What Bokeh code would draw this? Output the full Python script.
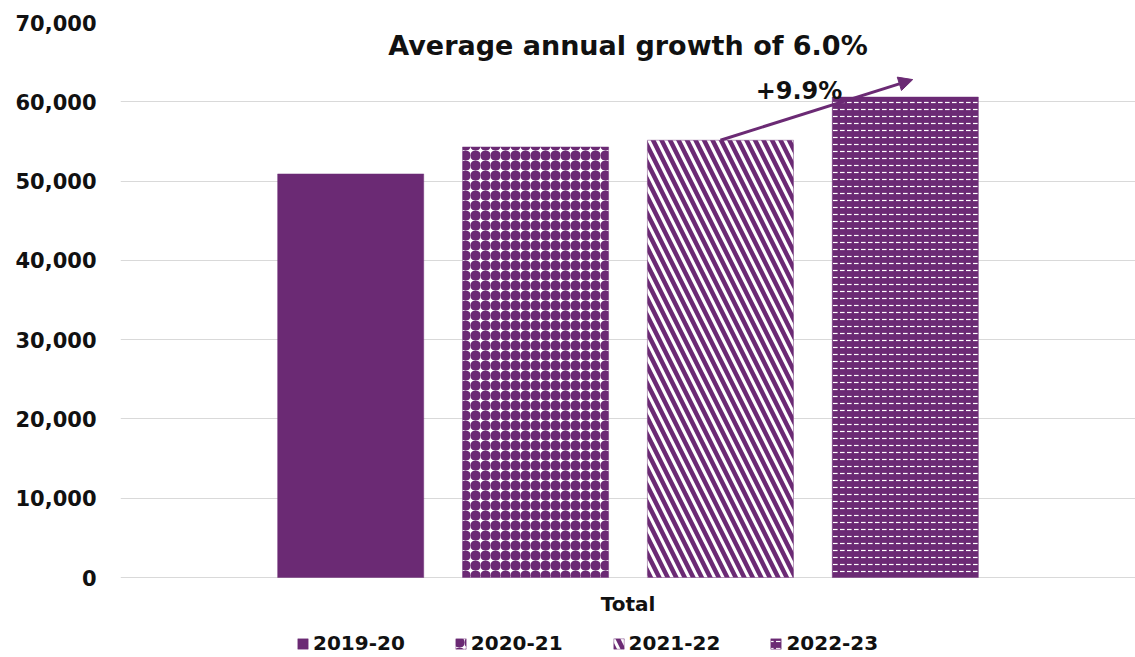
from bokeh.plotting import figure
from bokeh.models import (Range1d, NumeralTickFormatter, FixedTicker, Label, Arrow,
                          NormalHead, Legend, LegendItem)
from bokeh.embed import file_html
from bokeh.resources import INLINE

# ---- data ----
periods = ["2019-20", "2020-21", "2021-22", "2022-23"]
values = [50900, 54300, 55150, 60600]
y_ticks = [0, 10000, 20000, 30000, 40000, 50000, 60000, 70000]
category_label = "Total"
title_text = "Average annual growth of 6.0%"
change_text = "+9.9%"

# ---- styles ----
PURPLE = "#6B2A74"
FONT = "DejaVu Sans"
fills = [PURPLE, "white", "white", PURPLE]
hatches = [None, "ring", "left_diagonal_line", "horizontal_dash"]
hatch_colors = [PURPLE, PURPLE, PURPLE, "white"]
hatch_scales = [10, 10, 17, 7]
hatch_weights = [1, 5.5, 4.5, 1.2]

# frame runs from y=22 to the bottom of the page; the area below 0 holds the
# category label and the legend
Y_TOP = 70000
Y_BOTTOM = -Y_TOP * 80 / 555

p = figure(width=1135, height=657,
           x_range=Range1d(-1.245, 4.245), y_range=Range1d(Y_BOTTOM, Y_TOP),
           output_backend="svg", toolbar_location=None,
           min_border_left=120, min_border_right=0, min_border_top=22,
           min_border_bottom=0)
p.outline_line_color = None
p.background_fill_color = "white"
p.border_fill_color = "white"
p.xaxis.visible = False

# y axis
p.yaxis.ticker = FixedTicker(ticks=y_ticks)
p.yaxis.formatter = NumeralTickFormatter(format="0,0")
p.yaxis.axis_line_color = None
p.yaxis.major_tick_line_color = None
p.yaxis.minor_tick_line_color = None
p.yaxis.major_tick_out = 0
p.yaxis.major_label_standoff = 24
p.yaxis.major_label_text_font = FONT
p.yaxis.major_label_text_font_style = "bold"
p.yaxis.major_label_text_font_size = "21px"
p.yaxis.major_label_text_color = "#111111"

p.xgrid.grid_line_color = None
p.ygrid.ticker = FixedTicker(ticks=y_ticks)
p.ygrid.grid_line_color = "#D9D9D9"
p.ygrid.grid_line_width = 1

items = []
for i, name in enumerate(periods):
    kw = dict(x=[i], top=[values[i]], width=0.79, bottom=0,
              fill_color=fills[i], line_color=PURPLE, line_alpha=0.45, line_width=1)
    if hatches[i]:
        kw.update(hatch_pattern=hatches[i], hatch_color=hatch_colors[i],
                  hatch_scale=hatch_scales[i], hatch_weight=hatch_weights[i])
    r = p.vbar(**kw)
    items.append(LegendItem(label=name, renderers=[r]))

legend = Legend(items=items, orientation="horizontal", location=(176, 2),
                label_text_font=FONT, label_text_font_style="bold",
                label_text_font_size="20px", label_text_color="#111111",
                glyph_width=13, glyph_height=13, label_standoff=4, spacing=49,
                border_line_color=None, background_fill_alpha=0,
                padding=0, margin=0, label_height=20)
p.add_layout(legend)

# category label under the bars
p.add_layout(Label(x=(len(periods) - 1) / 2, y=-3300, text=category_label,
                   text_align="center", text_baseline="middle",
                   text_font=FONT, text_font_style="bold", text_font_size="20px",
                   text_color="#111111"))

# annotations
p.add_layout(Label(x=(len(periods) - 1) / 2, y=67100, text=title_text,
                   text_align="center", text_baseline="middle",
                   text_font=FONT, text_font_style="bold", text_font_size="27px",
                   text_color="#111111"))

p.add_layout(Arrow(x_start=2, y_start=values[2], x_end=3 + 0.04, y_end=values[3] + 2200,
                   line_color=PURPLE, line_width=3,
                   end=NormalHead(size=14, fill_color=PURPLE, line_color=PURPLE)))

p.add_layout(Label(x=2.425, y=61400, text=change_text,
                   text_align="center", text_baseline="middle",
                   text_font=FONT, text_font_style="bold", text_font_size="24px",
                   text_color="#111111"))

open("out.html", "w").write(file_html(p, INLINE))
